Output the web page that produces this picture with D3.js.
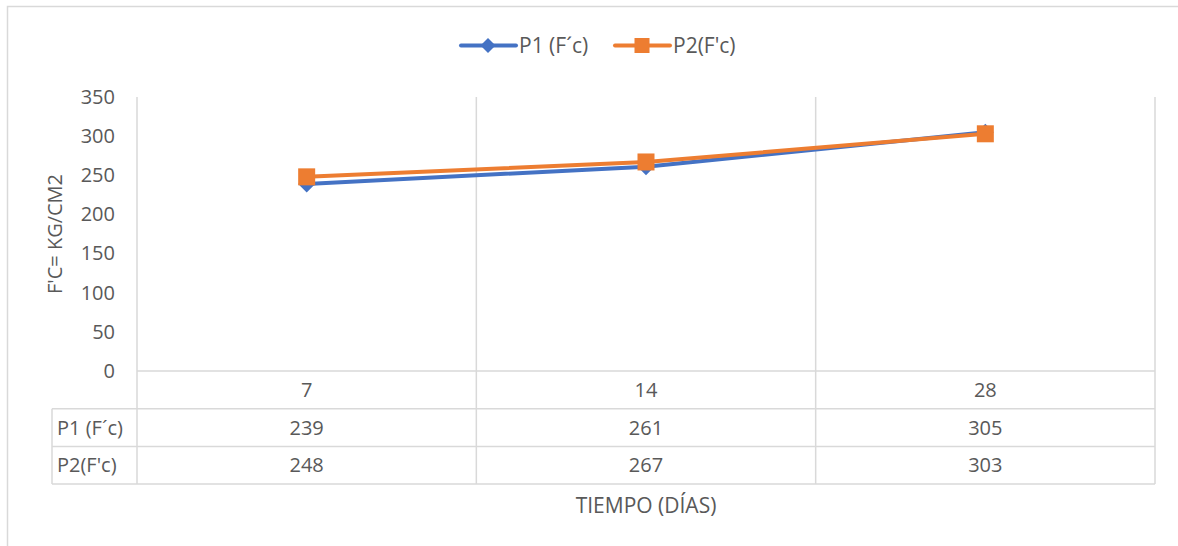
<!DOCTYPE html>
<html>
<head>
<meta charset="utf-8">
<script src="https://cdn.jsdelivr.net/npm/d3@7"></script>
<style>
  html, body { margin: 0; padding: 0; background: #fff; }
  svg text { font-family: "Open Sans", "Noto Sans", sans-serif; fill: #595959; }
</style>
</head>
<body>
<svg id="chart" width="1178" height="546"></svg>
<script>
// Compressive strength by curing age
const dias = ["7", "14", "28"];
const p1 = [239, 261, 305];
const p2 = [248, 267, 303];
const seriesNames = ["P1 (F´c)", "P2(F'c)"];
const yTicks = [0, 50, 100, 150, 200, 250, 300, 350];

const series = [
  { name: seriesNames[0], values: p1, color: "#4472C4", marker: "diamond" },
  { name: seriesNames[1], values: p2, color: "#ED7D31", marker: "square" }
];

const svg = d3.select("#chart");
const W = 1178, H = 546;
const plot = { left: 137, right: 1155, top: 97, bottom: 371 };
const rowH = 37.7;
const tableLeft = 52;
const gridColor = "#d9d9d9";
const fs = 20;

// outer chart frame
svg.append("rect")
  .attr("x", 7.5).attr("y", 6.5)
  .attr("width", W + 10).attr("height", H + 10)
  .attr("fill", "none").attr("stroke", gridColor).attr("stroke-width", 1.5);

const x = d3.scaleBand().domain(dias).range([plot.left, plot.right]).padding(0);
const y = d3.scaleLinear().domain([0, 350]).range([plot.bottom, plot.top]);

const tableBottom = plot.bottom + rowH * 3;

// vertical category boundaries, running through the data table
const bounds = dias.map(d => x(d)).concat([plot.right]);
svg.append("g").selectAll("line").data(bounds).join("line")
  .attr("x1", d => d).attr("x2", d => d)
  .attr("y1", plot.top).attr("y2", tableBottom)
  .attr("stroke", gridColor).attr("stroke-width", 1.5);

// horizontal rules of the axis / data table
const hRules = [
  { y: plot.bottom, x1: plot.left },
  { y: plot.bottom + rowH, x1: tableLeft },
  { y: plot.bottom + rowH * 2, x1: tableLeft },
  { y: tableBottom, x1: tableLeft }
];
svg.append("g").selectAll("line").data(hRules).join("line")
  .attr("x1", d => d.x1).attr("x2", plot.right)
  .attr("y1", d => d.y).attr("y2", d => d.y)
  .attr("stroke", gridColor).attr("stroke-width", 1.5);
svg.append("line")
  .attr("x1", tableLeft).attr("x2", tableLeft)
  .attr("y1", plot.bottom + rowH).attr("y2", tableBottom)
  .attr("stroke", gridColor).attr("stroke-width", 1.5);

// y axis tick labels
const yAxis = d3.axisLeft(y).tickValues(yTicks).tickSize(0).tickPadding(22);
const gy = svg.append("g").attr("transform", `translate(${plot.left},0)`).call(yAxis);
gy.select(".domain").remove();
gy.selectAll("text").attr("font-size", fs).style("font-family", "'Open Sans', sans-serif").attr("fill", "#595959");

// category labels row
const xAxis = d3.axisBottom(x).tickSize(0).tickPadding(0);
const gx = svg.append("g").attr("transform", `translate(0,${plot.bottom})`).call(xAxis);
gx.select(".domain").remove();
gx.selectAll("text").attr("font-size", fs).attr("dy", null).attr("y", rowH / 2 + 7)
  .style("font-family", "'Open Sans', sans-serif").attr("fill", "#595959");

// data table rows
series.forEach((s, i) => {
  const rowMid = plot.bottom + rowH * (i + 1) + rowH / 2 + 7;
  svg.append("text").attr("x", tableLeft + 5).attr("y", rowMid)
    .attr("font-size", fs).text(s.name);
  svg.append("g").selectAll("text").data(s.values).join("text")
    .attr("x", (d, j) => x(dias[j]) + x.bandwidth() / 2)
    .attr("y", rowMid).attr("text-anchor", "middle")
    .attr("font-size", fs).text(d => d);
});

// series lines and markers
const line = d3.line().x((d, i) => x(dias[i]) + x.bandwidth() / 2).y(d => y(d));
const drawMarker = (g, s, cx, cy, sz) => {
  if (s.marker === "diamond") {
    g.append("path").attr("d", d3.symbol().type(d3.symbolSquare).size(sz * sz * 0.5)())
      .attr("transform", `translate(${cx},${cy}) rotate(45)`)
      .attr("fill", s.color);
  } else {
    g.append("rect").attr("x", cx - sz / 2).attr("y", cy - sz / 2)
      .attr("width", sz).attr("height", sz).attr("fill", s.color);
  }
};
series.forEach(s => {
  const g = svg.append("g");
  g.append("path").datum(s.values).attr("d", line)
    .attr("fill", "none").attr("stroke", s.color).attr("stroke-width", 4)
    .attr("stroke-linejoin", "round");
  s.values.forEach((v, i) => drawMarker(g, s, x(dias[i]) + x.bandwidth() / 2, y(v), 17));
});

// legend
const legendItems = [
  { s: series[0], x0: 461 },
  { s: series[1], x0: 615 }
];
legendItems.forEach(({ s, x0 }) => {
  const g = svg.append("g");
  const ly = 45.5;
  g.append("line").attr("x1", x0).attr("x2", x0 + 55).attr("y1", ly).attr("y2", ly)
    .attr("stroke", s.color).attr("stroke-width", 4).attr("stroke-linecap", "round");
  drawMarker(g, s, x0 + 27, ly, s.marker === "diamond" ? 15 : 15);
  g.append("text").attr("x", x0 + 58).attr("y", ly + 7.5).attr("font-size", 21).text(s.name);
});

// axis titles
svg.append("text").attr("transform", "translate(62,234) rotate(-90)")
  .attr("text-anchor", "middle").attr("font-size", 20).text("F'C= KG/CM2");
svg.append("text").attr("x", 646).attr("y", 513)
  .attr("text-anchor", "middle").attr("font-size", 21).text("TIEMPO (DÍAS)");
</script>
</body>
</html>
